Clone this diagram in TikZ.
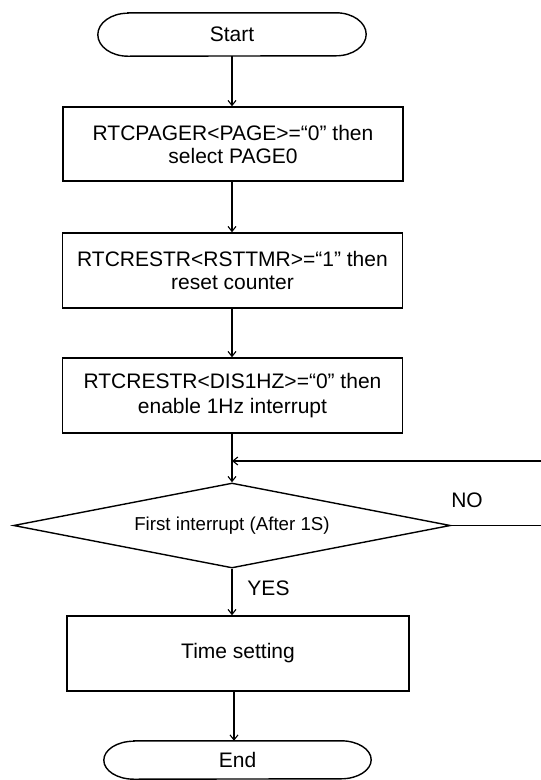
\documentclass[tikz,border=0pt]{standalone}
\usepackage{fontspec}
\setmainfont{Liberation Sans}
\usetikzlibrary{arrows.meta,shapes.geometric,calc}
\begin{document}
\begin{tikzpicture}[x=1pt,y=-1pt,
  box/.style={draw,line width=1.4pt,minimum width=340pt,minimum height=74pt,align=center,inner sep=0pt,font=\fontsize{21}{23}\selectfont},
  term/.style={minimum width=268pt,minimum height=43pt,inner sep=0pt,font=\fontsize{21}{23}\selectfont},
  dia/.style={diamond,draw,line width=1.4pt,inner sep=0pt,aspect=5.14,minimum width=437pt,minimum height=85pt,font=\fontsize{18.7}{21}\selectfont},
  conn/.style={line width=1.1pt,-{Straight Barb[length=5pt,width=8pt]}},
  plain/.style={line width=1.1pt},
  oval/.style={line width=1.4pt},
  lab/.style={font=\fontsize{21}{23}\selectfont}]
\useasboundingbox (0,0) rectangle (541,780);
% Start
\node[term] (start) at (232,34.5) {Start};
\draw[oval] ($(start.north west)+(30,0)$) -- ($(start.north east)+(-30,0)$)
  arc[start angle=90,end angle=-90,x radius=30pt,y radius=21.5pt]
  -- ($(start.south west)+(30,0)$)
  arc[start angle=270,end angle=90,x radius=30pt,y radius=21.5pt] -- cycle;
% boxes
\node[box] (b1) at (233,144) {RTCPAGER<PAGE>=“0” then\\select PAGE0};
\node[box,minimum height=75pt] (b2) at (232.5,270.5) {RTCRESTR<RSTTMR>=“1” then\\reset counter};
\node[box,minimum height=75pt] (b3) at (232.5,395.5) {RTCRESTR<DIS1HZ>=“0” then\\[2pt]enable 1Hz interrupt};
\node[dia] (d) at (232,525.5) {First interrupt (After 1S)};
\node[box,minimum width=342pt,minimum height=75pt] (t) at (238,653.5) {Time setting};
% End
\node[term,minimum width=267pt,minimum height=38pt] (e) at (237.5,760) {End};
\draw[oval] ($(e.north west)+(30,0)$) -- ($(e.north east)+(-30,0)$)
  arc[start angle=90,end angle=-90,x radius=30pt,y radius=19pt]
  -- ($(e.south west)+(30,0)$)
  arc[start angle=270,end angle=90,x radius=30pt,y radius=19pt] -- cycle;
% connectors
\coordinate (lr) at (541,461);
\coordinate (nr) at (541,525.5);
\draw[conn] (start.south) -- (start.south |- b1.north);
\draw[conn] (b1.south -| d.north) -- (d.north |- b2.north);
\draw[conn] (b2.south -| d.north) -- (d.north |- b3.north);
\draw[conn] (b3.south -| d.north) -- (d.north);
\draw[conn] (lr) -- (lr -| d.north);
\draw[plain] (d.east) -- (nr);
\draw[conn] (d.south) -- (d.south |- t.north);
\draw[conn] ($(d.south |- t.south)+(2,0)$) -- ($(d.south |- e.north)+(2,0)$);
% labels
\node[lab] (no) at (467,500) {NO};
\node[lab] (yes) at (268.5,588) {YES};
\end{tikzpicture}
\end{document}
